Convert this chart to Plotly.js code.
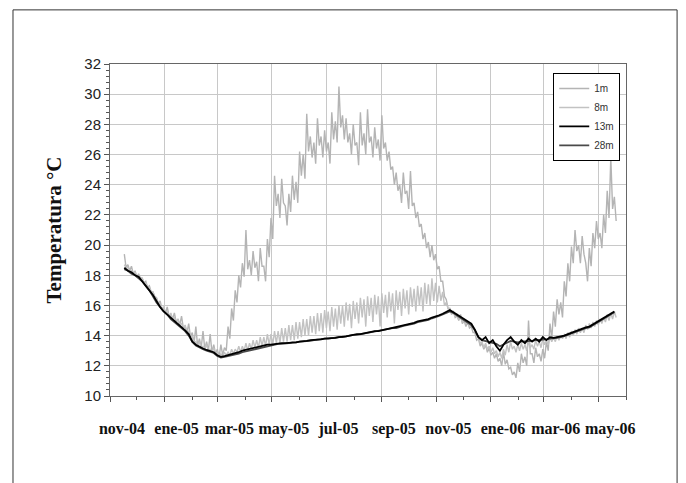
<!DOCTYPE html>
<html>
<head>
<meta charset="utf-8">
<script src="https://cdn.plot.ly/plotly-3.0.1.min.js"></script>
<style>
  html, body { margin: 0; padding: 0; background: #ffffff; }
  #chart { width: 686px; height: 483px; }
</style>
</head>
<body>
<div id="chart"></div>
<script>
// Sampling: shallow sensors read every 2 days, deep sensors every 4 days, from this date
const sampleStart = '2004-11-17';
const stepShallowDays = 2;
const stepDeepDays = 4;

const seriesNames = ['1m', '8m', '13m', '28m'];

const temp1m = [
  19.4,18.5, 18.7,18.3, 18.6,18.1, 18.3,17.9, 18.1,17.8, 17.8,17.5, 17.6,17.2, 17.3,16.9, 16.9,16.6, 16.5,16.1,
  16.3,15.8, 15.8,15.5, 15.9,15.3, 15.4,15.1, 15.5,14.9, 15.1,14.7, 15.3,14.5, 14.6,14.2, 14.8,13.9, 14.2,13.5,
  14.6,13.3, 13.8,13.2, 14.3,13.1, 13.6,13.0, 14.1,12.9, 13.4,12.8, 13.1,12.6, 13.4,12.7, 13.2,13.0, 14.6,13.8,
  15.8,15.0, 17.0,16.2, 18.0,17.2, 18.8,17.9, 21.0,18.4, 19.0,18.0, 19.6,18.5, 18.9,17.6, 19.8,18.6, 18.6,17.6,
  20.4,19.2, 21.8,20.4, 24.6,22.6, 23.4,21.8, 24.4,22.8, 22.6,21.3, 23.4,22.2, 24.6,23.0, 24.2,22.8, 26.2,24.6,
  26.0,24.4, 28.7,26.2, 27.2,25.8, 26.8,25.4, 28.4,26.6, 27.2,25.8, 27.6,26.2, 26.8,25.4, 28.8,27.0, 28.2,26.8,
  30.5,27.8, 28.6,27.0, 28.4,26.8, 27.4,26.0, 28.0,26.6, 26.8,25.3, 28.8,26.6, 27.4,26.0, 29.0,26.8, 27.2,25.8,
  27.8,26.4, 27.0,25.6, 28.6,26.4, 26.8,25.6, 26.2,25.0, 25.2,24.0, 24.8,23.6, 24.0,22.8, 24.8,23.4, 23.6,22.4,
  24.9,22.6, 22.8,21.8, 22.2,21.2, 21.4,20.4, 20.8,19.8, 20.2,19.2, 20.0,19.0, 19.4,18.4, 18.6,17.6, 17.6,16.6,
  16.4,15.8, 15.8,15.4, 15.6,15.2, 15.3,15.0, 15.4,14.8, 15.0,14.6, 14.9,14.5, 14.6,14.2, 14.2,13.7, 13.8,13.3,
  13.5,13.1, 13.4,12.9, 13.2,12.7, 12.9,12.5, 12.8,12.3, 12.5,12.0, 12.9,12.1, 12.4,11.8, 11.9,11.4, 11.6,11.2,
  12.2,11.6, 12.8,12.2, 12.6,12.0, 15.0,12.8, 12.8,12.2, 13.2,12.6, 12.8,12.3, 13.1,12.5, 13.6,13.0, 14.8,13.8,
  15.6,14.6, 16.4,15.4, 16.2,15.2, 17.6,16.6, 18.8,17.6, 19.9,18.8, 21.0,19.6, 20.0,18.8, 20.6,19.4, 18.8,17.6,
  19.8,18.6, 20.8,19.8, 21.6,20.4, 20.8,19.8, 22.0,20.8, 23.6,21.8, 25.8,22.4, 23.2,21.6
];

const temp8m = [
  18.7,18.5, 18.5,18.3, 18.3,18.1, 18.2,17.9, 18.0,17.8, 17.8,17.5, 17.5,17.2, 17.2,16.9, 16.9,16.6, 16.5,16.2,
  16.1,15.8, 15.9,15.5, 15.6,15.3, 15.5,15.1, 15.2,14.9, 15.1,14.7, 14.8,14.5, 14.7,14.3, 14.3,14.0, 13.9,13.5,
  13.6,13.3, 13.6,13.2, 13.3,13.1, 13.4,13.0, 13.1,12.9, 13.2,12.8, 12.9,12.6, 12.8,12.6, 12.9,12.7, 12.9,12.7,
  13.1,12.8, 13.1,12.9, 13.3,12.9, 13.3,13.0, 13.5,13.0, 13.5,13.1, 13.7,13.2, 13.7,13.2, 13.9,13.3, 13.9,13.3,
  14.1,13.4, 14.1,13.4, 14.3,13.5, 14.3,13.5, 14.5,13.6, 14.5,13.6, 14.7,13.7, 14.7,13.7, 14.9,13.8, 14.9,13.9,
  15.1,14.0, 15.1,14.0, 15.3,14.2, 15.3,14.1, 15.5,14.3, 15.5,14.2, 15.7,14.5, 15.6,14.3, 15.9,14.6, 15.8,14.4,
  16.0,14.8, 16.0,14.6, 16.2,15.0, 16.1,14.5, 16.3,15.1, 16.2,14.8, 16.5,15.2, 16.4,14.6, 16.6,15.3, 16.5,14.9,
  16.7,15.4, 16.6,14.6, 16.8,15.5, 16.7,15.2, 16.9,15.6, 16.8,14.8, 17.0,15.7, 16.9,15.3, 17.1,15.8, 17.0,15.4,
  17.2,15.9, 17.1,15.6, 17.3,16.0, 17.2,15.6, 17.5,16.1, 17.4,16.0, 17.8,16.3, 17.5,16.2, 17.3,16.3, 16.9,16.0,
  16.2,15.8, 15.8,15.5, 15.6,15.3, 15.4,15.1, 15.2,14.9, 15.1,14.8, 14.9,14.6, 14.8,14.5, 14.4,14.0, 13.9,13.5,
  13.6,13.2, 13.5,13.1, 13.3,12.9, 13.2,12.8, 13.0,12.6, 12.9,12.5, 13.1,12.7, 13.4,12.9, 13.6,13.1, 13.3,12.9,
  13.4,13.0, 13.5,13.1, 13.4,13.0, 13.6,13.2, 13.4,13.1, 13.7,13.3, 13.6,13.2, 13.8,13.4, 13.7,13.4, 13.9,13.6,
  13.9,13.6, 14.0,13.7, 14.0,13.8, 14.1,13.8, 14.2,13.9, 14.3,14.0, 14.4,14.1, 14.5,14.2, 14.5,14.2, 14.7,14.4,
  14.8,14.5, 14.9,14.6, 15.0,14.7, 15.1,14.8, 15.2,14.9, 15.4,15.0, 15.5,15.1, 15.6,15.2
];

const temp13m = [
  18.5,18.3,18.2,18.0,17.9,17.6,17.3,17.0,16.7,16.3,
  15.9,15.6,15.4,15.2,15.0,14.8,14.6,14.35,14.1,13.6,
  13.4,13.25,13.15,13.05,12.95,12.9,12.7,12.6,12.65,12.7,
  12.8,12.85,12.9,13.0,13.05,13.1,13.2,13.25,13.3,13.35,
  13.4,13.4,13.45,13.45,13.5,13.5,13.5,13.55,13.55,13.6,
  13.6,13.65,13.7,13.7,13.75,13.75,13.8,13.8,13.85,13.85,
  13.9,13.95,13.95,14.0,14.05,14.1,14.1,14.15,14.2,14.25,
  14.3,14.3,14.35,14.4,14.45,14.5,14.55,14.6,14.65,14.75,
  14.8,14.85,14.95,15.0,15.05,15.1,15.2,15.25,15.35,15.45,
  15.6,15.7,15.55,15.4,15.2,15.05,14.9,14.8,14.4,13.9,
  13.7,13.9,13.5,13.7,13.3,13.0,13.4,13.7,13.9,13.6,
  13.4,13.7,13.5,13.8,13.6,13.8,13.6,13.9,13.7,13.9,
  13.85,13.9,13.95,14.0,14.1,14.2,14.3,14.35,14.45,14.55,
  14.6,14.75,14.85,15.0,15.15,15.3,15.45,15.6
];

const temp28m = [
  18.4,18.3,18.1,18.0,17.8,17.6,17.3,17.0,16.6,16.2,
  15.9,15.6,15.4,15.1,14.9,14.7,14.5,14.3,14.0,13.6,
  13.35,13.2,13.1,13.0,12.9,12.85,12.65,12.55,12.6,12.65,
  12.7,12.75,12.8,12.9,12.95,13.0,13.05,13.1,13.15,13.25,
  13.3,13.35,13.4,13.45,13.45,13.5,13.5,13.55,13.55,13.6,
  13.6,13.65,13.65,13.7,13.75,13.75,13.8,13.8,13.85,13.85,
  13.9,13.9,13.95,14.0,14.05,14.05,14.1,14.15,14.2,14.25,
  14.25,14.3,14.35,14.4,14.45,14.5,14.5,14.55,14.65,14.7,
  14.75,14.8,14.9,14.95,15.0,15.05,15.15,15.2,15.3,15.4,
  15.5,15.6,15.5,15.35,15.2,15.0,14.85,14.7,14.35,13.9,
  13.7,13.65,13.6,13.55,13.45,13.3,13.4,13.55,13.65,13.6,
  13.55,13.6,13.6,13.65,13.65,13.7,13.7,13.75,13.75,13.8,
  13.8,13.85,13.9,13.95,14.05,14.15,14.25,14.3,14.4,14.5,
  14.55,14.7,14.8,14.95,15.1,15.25,15.4,15.55
];

const tickDates  = ['2004-11-01','2005-01-01','2005-03-01','2005-05-01','2005-07-01',
                    '2005-09-01','2005-11-01','2006-01-01','2006-03-01','2006-05-01'];
const tickLabels = ['nov-04','ene-05','mar-05','may-05','jul-05',
                    'sep-05','nov-05','ene-06','mar-06','may-06'];

const xRange = ['2004-11-01', '2006-06-01'];
const yRange = [10, 32];

function sampleDates(step, n) {
  const out = [];
  const t0 = new Date(sampleStart + 'T00:00:00Z').getTime();
  for (let i = 0; i < n; i++) {
    const d = new Date(t0 + i * step * 86400000);
    out.push(d.toISOString().slice(0, 10));
  }
  return out;
}

function mk(name, y, step, color, width, rank) {
  return {
    type: 'scatter', mode: 'lines', name: name,
    x: sampleDates(step, y.length), y: y,
    line: { color: color, width: width },
    legendrank: rank, hoverinfo: 'skip'
  };
}

const traces = [
  mk(seriesNames[0], temp1m, stepShallowDays, '#b4b4b4', 1.4, 1),
  mk(seriesNames[1], temp8m, stepShallowDays, '#c2c2c2', 1.4, 2),
  mk(seriesNames[3], temp28m, stepDeepDays, '#4a4a4a', 1.8, 4),
  mk(seriesNames[2], temp13m, stepDeepDays, '#000000', 1.8, 3)
];

const layout = {
  width: 686, height: 483,
  margin: { l: 110, r: 60, t: 64, b: 87 },
  paper_bgcolor: '#ffffff',
  plot_bgcolor: '#ffffff',
  showlegend: true,
  legend: {
    x: 0.859, y: 0.973, xanchor: 'left', yanchor: 'top',
    bgcolor: '#ffffff', bordercolor: '#000000', borderwidth: 1,
    font: { family: 'Liberation Sans, Arial, sans-serif', size: 10, color: '#333333' },
    traceorder: 'normal'
  },
  xaxis: {
    type: 'date', range: xRange,
    tickmode: 'array', tickvals: tickDates, ticktext: tickLabels,
    ticks: 'outside', ticklen: 5, tickcolor: '#555555',
    ticklabelshift: 12, ticklabelstandoff: 13,
    tickfont: { family: 'Liberation Serif, Times New Roman, serif', size: 16, color: '#111111', weight: 'bold' },
    showgrid: true, gridcolor: '#c8c8c8', gridwidth: 1,
    showline: true, linecolor: '#666666', linewidth: 1, mirror: true,
    zeroline: false,
    minor: { dtick: 'M1', tick0: '2004-11-01', ticks: 'outside', ticklen: 3, tickcolor: '#555555', showgrid: false }
  },
  yaxis: {
    range: yRange, dtick: 2, tick0: 10,
    ticks: 'outside', ticklen: 5, tickcolor: '#555555',
    tickfont: { family: 'Liberation Sans, Arial, sans-serif', size: 15, color: '#222222' },
    showgrid: true, gridcolor: '#c8c8c8', gridwidth: 1,
    showline: true, linecolor: '#666666', linewidth: 1, mirror: true,
    zeroline: false,
    minor: { dtick: 0.4, ticks: 'outside', ticklen: 3, tickcolor: '#555555', showgrid: false },
    title: {
      text: 'Temperatura °C',
      font: { family: 'Liberation Serif, Times New Roman, serif', size: 21, color: '#111111', weight: 'bold' },
      standoff: 16
    }
  },
  shapes: [
    { type: 'rect', xref: 'paper', yref: 'paper',
      x0: -0.188, x1: 1.099, y0: -0.3, y1: 1.163,
      line: { color: '#333333', width: 1 }, fillcolor: 'rgba(0,0,0,0)', layer: 'below' }
  ]
};

Plotly.newPlot('chart', traces, layout, { staticPlot: true, displayModeBar: false });
</script>
</body>
</html>
